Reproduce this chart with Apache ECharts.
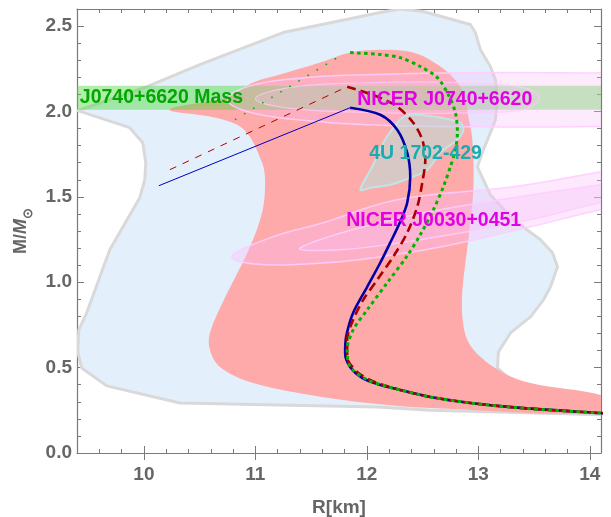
<!DOCTYPE html>
<html>
<head>
<meta charset="utf-8">
<script src="https://cdn.jsdelivr.net/npm/echarts@6/dist/echarts.min.js"></script>
<style>html,body{margin:0;padding:0;background:#fff}#c{width:611px;height:517px}</style>
</head>
<body>
<div id="c"></div>
<script>
// ---------- data (R [km], M [Msun]) ----------
const xMajorTicks = [10, 11, 12, 13, 14];

// light-blue constraint region (outlined in grey)
const blueRegion = [[9.407,2.005],[10.027,2.145],[10.502,2.274],[11.248,2.462],[12.120,2.579],[12.299,2.60],[12.506,2.585],[12.928,2.509],[12.973,2.462],[13.018,2.362],[13.108,2.263],[13.153,2.186],[13.171,2.069],[13.153,1.952],[13.108,1.876],[13.045,1.776],[12.991,1.676],[13.108,1.512],[13.314,1.366],[13.557,1.249],[13.665,1.172],[13.710,1.090],[13.647,0.973],[13.584,0.897],[13.467,0.797],[13.288,0.703],[13.180,0.592],[13.171,0.498],[13.288,0.428],[13.467,0.387],[14.185,0.322],[14.185,0.223],[12.569,0.250],[12.093,0.270],[10.323,0.293],[9.667,0.393],[9.442,0.498],[9.407,0.592],[9.416,0.721],[9.487,0.821],[9.694,1.190],[9.963,1.495],[10.008,1.600],[10.017,1.700],[9.990,1.817],[9.873,1.905]];

// salmon constraint region
const pinkRegion = [[10.233,2.011],[10.772,2.087],[10.979,2.169],[11.221,2.216],[11.580,2.286],[11.850,2.345],[12.120,2.362],[12.416,2.345],[12.659,2.263],[12.812,2.169],[12.884,2.069],[12.910,1.970],[12.946,1.835],[12.955,1.542],[12.910,1.249],[12.857,0.955],[12.857,0.797],[12.901,0.662],[13.018,0.563],[13.225,0.469],[13.467,0.410],[14.185,0.322],[14.185,0.234],[12.569,0.264],[12.093,0.287],[11.491,0.340],[10.952,0.416],[10.682,0.504],[10.592,0.604],[10.592,0.703],[10.718,0.897],[10.808,1.014],[10.952,1.208],[11.060,1.407],[11.087,1.583],[11.060,1.700],[10.898,1.893],[10.637,1.964]];

// J0740+6620 mass band
const massBand = [2.01, 2.15];

// NICER J0740+6620 contours
const j0740Outer = [[10.75,2.07],[10.95,2.15],[11.4,2.195],[12.0,2.215],[13.0,2.228],[14.0,2.225],[14.6,2.21],[14.6,1.93],[14.0,1.912],[13.0,1.91],[12.0,1.922],[11.4,1.95],[10.95,1.995]];
const j0740Inner = [[11.0,2.075],[11.3,2.14],[12.0,2.168],[12.8,2.17],[13.4,2.14],[13.55,2.08],[13.4,2.01],[12.8,1.99],[12.0,1.995],[11.3,2.02]];

// NICER J0030+0451 contours
const j0030Outer = [[10.790,1.143],[11.131,1.260],[11.608,1.348],[12.272,1.483],[13.314,1.559],[14.096,1.647],[14.455,1.688],[14.6,1.58],[14.455,1.465],[14.096,1.424],[13.467,1.325],[12.416,1.178],[11.311,1.102]];
const j0030Inner = [[11.404,1.202],[12.299,1.377],[13.314,1.495],[14.096,1.571],[14.455,1.600],[14.455,1.495],[14.096,1.466],[13.467,1.366],[12.479,1.249],[11.76,1.19]];

// 4U 1702-429 contour
const u1702 = [[11.941,1.542],[12.048,1.676],[12.147,1.817],[12.299,1.952],[12.389,1.981],[12.596,1.970],[12.839,1.934],[12.866,1.893],[12.812,1.835],[12.659,1.758],[12.542,1.659],[12.389,1.612],[12.210,1.571],[12.030,1.553]];

// shared low-mass tail of the three M-R curves
const tail = [[12.299,0.369],[12.569,0.328],[12.928,0.293],[13.378,0.264],[14.096,0.234],[14.25,0.229]];

const blueCurve = [[11.850,2.022],[12.120,1.981],[12.272,1.893],[12.362,1.758],[12.389,1.618],[12.362,1.465],[12.299,1.354],[12.209,1.231],[12.120,1.114],[12.003,0.973],[11.877,0.821],[11.814,0.680],[11.805,0.586],[11.850,0.504],[11.958,0.440],[12.093,0.404]].concat(tail);
const redCurve = [[11.823,2.145],[12.093,2.087],[12.272,2.028],[12.416,1.934],[12.497,1.835],[12.524,1.717],[12.497,1.583],[12.452,1.442],[12.362,1.290],[12.236,1.149],[12.093,1.014],[11.967,0.897],[11.877,0.780],[11.823,0.662],[11.823,0.563],[11.913,0.475],[12.048,0.422]].concat(tail);
const greenCurve = [[11.850,2.345],[12.120,2.333],[12.299,2.315],[12.479,2.263],[12.632,2.198],[12.731,2.098],[12.794,1.993],[12.812,1.876],[12.794,1.776],[12.749,1.676],[12.686,1.559],[12.596,1.424],[12.479,1.278],[12.362,1.155],[12.182,0.996],[12.003,0.838],[11.877,0.721],[11.823,0.604],[11.850,0.504],[12.003,0.428],[12.164,0.393]].concat(tail);

// thin connecting segments (unstable branches)
const blueThin = [[10.134,1.565],[11.850,2.022]];
const redThin = [[10.233,1.659],[11.823,2.145]];
const greenThin = [[10.817,1.952],[11.78,2.333]];

// annotations
const labelTexts = ['J0740+6620 Mass', 'NICER J0740+6620', '4U 1702-429', 'NICER J0030+0451'];
const labelColors = ['#00a800', '#e400e4', '#1aacb0', '#e400e4'];
const labelAnchors = [[9.425,2.081],[11.913,2.072],[12.021,1.753],[11.814,1.360]];

// ---------- chart ----------
const FONT = '"Liberation Sans", Arial, Helvetica, sans-serif';
const AX = '#7a7a7a';
const LBL = '#666666';

function polySeries(points, style, smooth, z) {
  return {
    type: 'custom', clip: true, z: z, silent: true,
    data: [[points[0][0], points[0][1]]],
    renderItem: function (params, api) {
      return {
        type: 'polygon',
        shape: { points: points.map(p => api.coord(p)), smooth: smooth || 0 },
        style: style
      };
    }
  };
}

function bandSeries(band, style, z) {
  return {
    type: 'custom', clip: true, z: z, silent: true,
    data: [[9.4, band[0]]],
    renderItem: function (params, api) {
      const a = api.coord([9.0, band[1]]);
      const b = api.coord([14.5, band[0]]);
      return { type: 'rect', shape: { x: a[0], y: a[1], width: b[0] - a[0], height: b[1] - a[1] }, style: style };
    }
  };
}

function lineSeries(data, color, width, type, z, smooth) {
  return {
    type: 'line', data: data, showSymbol: false, symbol: 'none', smooth: smooth || 0, z: z,
    silent: true, clip: true,
    lineStyle: { color: color, width: width, type: type, cap: 'butt' }
  };
}

const baseX = { type: 'value', min: 9.4, max: 14.1, splitLine: { show: false } };
const baseY = { type: 'value', min: 0, max: 2.6, splitLine: { show: false } };

const option = {
  animation: false,
  backgroundColor: '#ffffff',
  grid: { left: 77, right: 10, top: 9, bottom: 64, containLabel: false, outerBoundsMode: 'none' },
  xAxis: [
    Object.assign({}, baseX, {
      position: 'bottom', interval: 0.2,
      axisLine: { show: true, onZero: false, lineStyle: { color: AX, width: 1.2 } },
      axisTick: { show: true, inside: true, length: 4, lineStyle: { color: AX, width: 1 } },
      axisLabel: {
        interval: 0, margin: 12, color: LBL, fontSize: 19, fontWeight: 'bold', fontFamily: FONT,
        formatter: v => (Math.abs(v - Math.round(v)) < 1e-6 ? String(Math.round(v)) : '')
      },
      name: 'R[km]', nameLocation: 'middle', nameGap: 45,
      nameTextStyle: { color: LBL, fontSize: 19, fontWeight: 'bold', fontFamily: FONT }
    }),
    Object.assign({}, baseX, {
      position: 'bottom',
      axisLine: { show: false },
      axisTick: { show: true, inside: true, length: 7, customValues: xMajorTicks, lineStyle: { color: AX, width: 1 } },
      axisLabel: { show: false, customValues: xMajorTicks }
    }),
    Object.assign({}, baseX, {
      position: 'top', interval: 0.2,
      axisLine: { show: true, onZero: false, lineStyle: { color: AX, width: 1.2 } },
      axisTick: { show: true, inside: true, length: 4, lineStyle: { color: AX, width: 1 } },
      axisLabel: { show: false }
    }),
    Object.assign({}, baseX, {
      position: 'top',
      axisLine: { show: false },
      axisTick: { show: true, inside: true, length: 7, customValues: xMajorTicks, lineStyle: { color: AX, width: 1 } },
      axisLabel: { show: false, customValues: xMajorTicks }
    })
  ],
  yAxis: [
    Object.assign({}, baseY, {
      position: 'left', interval: 0.5,
      axisLine: { show: true, onZero: false, lineStyle: { color: AX, width: 1.2 } },
      axisTick: { show: true, inside: true, length: 7, lineStyle: { color: AX, width: 1 } },
      minorTick: { show: true, splitNumber: 5, length: 4, lineStyle: { color: AX, width: 1 } },
      minorSplitLine: { show: false },
      axisLabel: {
        margin: 5, color: LBL, fontSize: 19, fontWeight: 'bold', fontFamily: FONT,
        formatter: v => (Math.abs(v / 0.5 - Math.round(v / 0.5)) < 1e-6 ? v.toFixed(1) : '')
      },
      name: '{m|M/}{mi|M}{s|⊙}', nameLocation: 'middle', nameRotate: 90, nameGap: 40,
      nameTextStyle: {
        rich: {
          m: { color: LBL, fontSize: 18, fontWeight: 'bold', fontFamily: FONT },
          mi: { color: LBL, fontSize: 18, fontWeight: 'bold', fontStyle: 'italic', fontFamily: FONT },
          s: { color: LBL, fontSize: 13, fontWeight: 'bold', fontFamily: FONT, padding: [14, 0, 0, 0] }
        }
      }
    }),
    Object.assign({}, baseY, {
      position: 'right', interval: 0.5,
      axisLine: { show: true, onZero: false, lineStyle: { color: AX, width: 1.2 } },
      axisTick: { show: true, inside: true, length: 7, lineStyle: { color: AX, width: 1 } },
      minorTick: { show: true, splitNumber: 5, length: 4, lineStyle: { color: AX, width: 1 } },
      minorSplitLine: { show: false },
      axisLabel: { show: false }
    })
  ],
  series: [
    polySeries(blueRegion, { fill: '#e3f0fc', stroke: '#d9d9d9', lineWidth: 3, lineJoin: 'round' }, 0, 1),
    polySeries(pinkRegion, { fill: '#ffaaaa' }, 0.35, 2),
    bandSeries(massBand, { fill: 'rgba(70,215,50,0.42)' }, 3),
    polySeries(j0740Outer, { fill: 'rgba(250,190,250,0.30)', stroke: 'rgba(255,205,255,0.9)', lineWidth: 1.5 }, 0.4, 4),
    polySeries(j0740Inner, { fill: 'rgba(250,190,250,0.25)', stroke: 'rgba(255,205,255,0.7)', lineWidth: 1.2 }, 0.4, 4),
    polySeries(j0030Outer, { fill: 'rgba(250,190,250,0.35)', stroke: 'rgba(255,205,255,0.9)', lineWidth: 1.5 }, 0.4, 4),
    polySeries(j0030Inner, { fill: 'rgba(250,190,250,0.30)', stroke: 'rgba(255,205,255,0.9)', lineWidth: 1.5 }, 0.4, 4),
    polySeries(u1702, { fill: 'rgba(190,220,215,0.6)', stroke: '#bfe5e5', lineWidth: 2 }, 0.3, 5),
    lineSeries(blueThin, '#0000c0', 1, 'solid', 6),
    lineSeries(redThin, '#b00000', 1, [7, 7], 6),
    lineSeries(greenThin, '#00b000', 1.6, [1.6, 9], 6),
    lineSeries(blueCurve, '#0000a8', 2.6, 'solid', 7, 0.3),
    lineSeries(redCurve, '#a80000', 2.6, [9, 5], 8, 0.3),
    lineSeries(greenCurve, '#00b400', 3, [3.5, 3.5], 9, 0.3),
    {
      type: 'custom', z: 20, silent: true, clip: false,
      data: labelAnchors,
      renderItem: function (params, api) {
        const p = api.coord([api.value(0), api.value(1)]);
        return {
          type: 'text',
          style: {
            text: labelTexts[params.dataIndex], x: p[0], y: p[1],
            fill: labelColors[params.dataIndex],
            font: 'bold 19.5px ' + FONT, align: 'left', verticalAlign: 'middle'
          }
        };
      }
    }
  ]
};

const chart = echarts.init(document.getElementById('c'), null, { renderer: 'canvas' });
chart.setOption(option);
</script>
</body>
</html>
